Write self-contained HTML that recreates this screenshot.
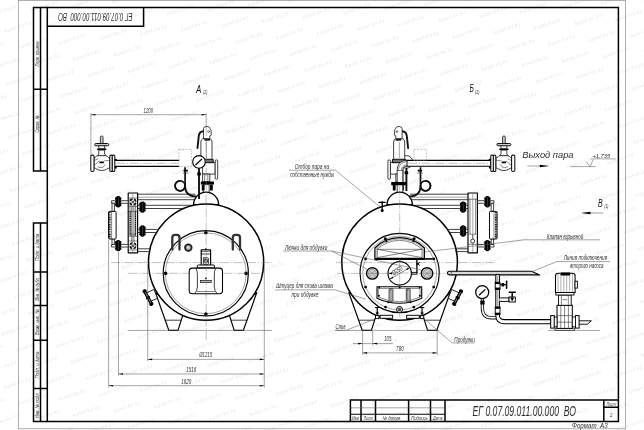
<!DOCTYPE html>
<html><head><meta charset="utf-8"><title>EG 0.07.09.011.00.000 VO</title>
<style>
html,body{margin:0;padding:0;background:#fff;}
body{width:644px;height:430px;overflow:hidden;font-family:"Liberation Sans",sans-serif;}
svg{display:block;will-change:transform;opacity:.999}
.o{fill:none;stroke:#8a8a8a;stroke-width:.7}
.f{fill:none;stroke:#000;stroke-width:1.5;stroke-linejoin:miter}
.k{fill:none;stroke:#000;stroke-width:1.15;stroke-linecap:round;stroke-linejoin:round}
.kw{fill:#fff;stroke:#000;stroke-width:1.15;stroke-linejoin:round}
.m{fill:none;stroke:#111;stroke-width:.8;stroke-linecap:round;stroke-linejoin:round}
.mw{fill:#fff;stroke:#111;stroke-width:.8;stroke-linejoin:round}
.n{fill:none;stroke:#333;stroke-width:.6;stroke-linecap:round;stroke-linejoin:round}
.nw{fill:#fff;stroke:#333;stroke-width:.6;stroke-linejoin:round}
.t{fill:none;stroke:#5a5a5a;stroke-width:.55}
.tw{fill:#fff;stroke:#666;stroke-width:.5}
.c{fill:none;stroke:#777;stroke-width:.45;stroke-dasharray:9 1.6 1.4 1.6}
.d{fill:none;stroke:#888;stroke-width:.5;stroke-dasharray:2 1.2}
.b{fill:#000;stroke:none}
.g{fill:#444;stroke:none}
.w{fill:#fff;stroke:none}
.tx{font-family:"Liberation Sans",sans-serif;font-style:italic;fill:#2e2e2e}
.tb{font-family:"Liberation Sans",sans-serif;font-style:italic;fill:#111}
.wm text{font-family:"Liberation Sans",sans-serif;font-size:5.2px;fill:#e3e3e3}
.wm use{fill:#e7e7e7}
</style></head><body>
<svg width="644" height="430" viewBox="0 0 644 430">
<defs>
<text id="wm" font-family="Liberation Sans, sans-serif" font-size="5" text-anchor="middle" textLength="28" lengthAdjust="spacing" transform="rotate(-19)">kotel-kv.kz</text>

<g id="valve">
 <rect class="mw" x="-1.35" y="-27.3" width="2.7" height="8.5" rx="1.2" style="fill:#ccc"/>
 <rect class="mw" x="-7" y="-19.8" width="14" height="2.3" rx="1.1" style="fill:#ccc;stroke-width:1"/>
 <rect class="mw" x="-2.9" y="-17.5" width="5.8" height="3.1"/>
 <rect class="b" x="-4.7" y="-14.7" width="9.4" height="1.5" rx=".5"/>
 <path class="mw" d="M-2.9 -13.2V-9.3L-4.6 -7.3H4.6L2.9 -9.3V-13.2Z"/>
 <path class="mw" d="M-7.7 -5.6C-5.6 -5.6 -5.8 -7.3 -4.2 -7.6H4.2C5.8 -7.3 5.6 -5.6 8.1 -5.6V4.6C5.6 4.8 4.5 7.2 0 7.2C-4.5 7.2 -5.4 4.8 -7.7 4.6Z"/>
 <path class="n" d="M-7.7 1.8C-5 1.6 -4.6 -1.6 -2.5 -2.2 M2.6 -2.4C4.5 -2.4 5.4 -3 8.1 -3 M-3.6 3.6C-1 5.2 2 4.2 3.4 1.6 M-7.7 -3C-6.2 -3 -5.2 -4 -4 -4.4"/>
 <rect class="b" x="-2.2" y="-1.8" width="4.4" height="1.7" rx=".4"/>
 <rect class="mw" x="-10.9" y="-8.2" width="3.2" height="16.4" rx="1.2" style="stroke-width:1.05"/>
 <rect class="mw" x="8.1" y="-8.2" width="2.5" height="16.4" rx="1" style="stroke-width:1.05"/>
 <rect class="mw" x="10.6" y="-8.2" width="2.5" height="16.4" rx="1" style="stroke-width:1.05"/>
 <rect class="b" x="13.1" y="-4.5" width="1.9" height="2" rx=".5"/>
 <rect class="b" x="13.1" y="3.2" width="1.9" height="2" rx=".5"/>
</g>

<g id="blob">
 <rect class="b" x="-2.2" y="-5.7" width="4.4" height="11.4" rx="1.8"/>
 <rect class="b" x="-3.2" y="-4.5" width="6.4" height="2.8" rx="1"/>
 <rect class="b" x="-3.2" y="1.7" width="6.4" height="2.8" rx="1"/>
 <rect class="b" x="-3" y="-1.3" width="6" height="2.6" rx=".8"/>
 <rect x="-.2" y="-4.6" width=".4" height="9.2" fill="#777"/>
</g>

<g id="vhead">
 <circle cx="0" cy="0" r="3.2" fill="#e8e8e8" stroke="none"/>
 <path d="M-2.6 -2.6L2.6 2.6M-2.6 2.6L2.6 -2.6" stroke="#666" stroke-width=".7" fill="none"/>
 <circle cx="0" cy="0" r="3" fill="none" stroke="#111" stroke-width="1.5" stroke-dasharray="3.1 1.61" stroke-dashoffset="-0.8"/>
 <circle cx="0" cy="0" r="1.3" fill="#555"/>
</g>

<g id="sv">
 <path d="M203.6 131.2C200.6 131.2 199 133 198.7 136.5L197.5 148" fill="none" stroke="#111" stroke-width="1.9" stroke-linecap="round"/>
 <path class="mw" d="M203.5 138.8V128.6Q203.7 126.7 206 126.6H208.2Q209.6 126.8 209.8 128.6Q211.3 129.2 211.2 131.5V134.6Q211.2 135.8 209.8 135.8V138.8Z"/>
 <circle class="n" cx="208.6" cy="131.6" r=".9"/>
 <path class="mw" d="M204 138.8H210.4Q211.9 139.6 212 142V159.2H200.9V142Q201 139.6 202.6 138.8Z"/>
 <path d="M204.4 139.9H210" stroke="#000" stroke-width="1.5" fill="none"/>
 <path class="t" d="M206.3 142V158"/>
</g>

<g id="instr">
 <!-- pipes from dome/drum to column -->
 <path class="w" d="M137.7 194.2H196V199.7H137.7Z"/>
 <path class="m" d="M137.7 194.2H195 M137.7 199.7H194"/>
 <path class="t" d="M137.7 197.2H194"/>
 <path class="w" d="M137.7 205.3H192V208.5H137.7Z"/>
 <path class="m" d="M137.7 205.3H192 M137.7 208.5H188"/>
 <path class="m" d="M137.7 229.4H157 M137.7 232.5H157"/>
 <path class="m" d="M137.7 248.8H150 M137.7 251.6H150"/>
 <use href="#blob" x="142.5" y="207.1"/>
 <use href="#blob" x="142.5" y="231"/>
 <!-- column -->
 <rect class="kw" x="128.2" y="193" width="9.4" height="59.8" style="stroke-width:1.15"/>
 <path class="n" d="M130 199V234.2M135.6 199V234.2 M130 234.2H135.6"/>
 <path class="t" d="M132.8 194V252"/>
 <!-- left side -->
 <path class="mw" d="M111.6 200.7H128.2V203.3H111.6Z"/>
 <path class="mw" d="M111.6 244.4H128.2V247H111.6Z"/>
 <use href="#blob" x="118.2" y="201.8"/>
 <use href="#blob" x="118.2" y="245.6"/>
 <path class="mw" d="M112 203.3H114.4V211.4H112Z"/>
 <path class="mw" d="M112 238.8H114.4V244.4H112Z"/>
 <rect class="kw" x="108.5" y="211.4" width="7.6" height="27.6" rx=".8" style="stroke-width:.95"/>
 <path d="M109.7 212V238.4" stroke="#111" stroke-width="1.7" stroke-dasharray="1.1 .6" fill="none"/>
 <path class="n" d="M111.6 211.4V238.8"/>
</g>
<g id="instrA">
 <path class="n" d="M128.2 198H137.7 M128.2 206.3H137.7 M128.2 211.4H137.7 M128.2 236.3H137.7 M128.2 241H137.7 M128.2 250H137.7"/>
 <path d="M130.2 211.4V236.3M135.5 211.4V236.3" stroke="#111" stroke-width="1.2" stroke-dasharray="1.3 .8" fill="none"/>
 <path class="n" d="M131.6 206.3V241M134 206.3V241"/>
 <use href="#vhead" x="132.9" y="202"/>
 <use href="#vhead" x="132.9" y="245.7"/>
</g>
<g id="instrB">
 <path class="n" d="M128.2 199.2H137.7 M128.2 244.3H137.7 M132.9 235V239"/>
 <circle class="mw" cx="132.9" cy="241.1" r="2"/>
</g>

<g id="drain">
 <path class="mw" d="M146.4 292.9L154 289.5L157.4 298.3L150.3 301.5Z" style="stroke-width:.9"/>
 <path d="M144.4 291L151.6 304.2" stroke="#000" stroke-width="3.2" stroke-linecap="round" fill="none"/>
 <path d="M144.6 291.4L151.4 303.8" stroke="#ddd" stroke-width=".6" fill="none"/>
 <ellipse class="b" cx="144.6" cy="291.2" rx="2.3" ry="1.3" transform="rotate(-28 144.6 291.2)"/>
 <ellipse class="b" cx="148" cy="297.6" rx="2.3" ry="1.2" transform="rotate(-28 148 297.6)"/>
 <ellipse class="b" cx="151.4" cy="304" rx="2.3" ry="1.3" transform="rotate(-28 151.4 304)"/>
</g>

<g id="legs">
 <path class="kw" d="M155.4 292.5L168.8 330.3H178L183.2 314Z"/>
 <path class="kw" d="M256.8 292.5L243.4 330.3H234.2L229 314Z"/>
 <path class="m" d="M165.2 320.2H180.8 M247 320.2H231.4"/>
</g>

</defs>
<g id="wmk">
<g class="wm">
<use href="#wm" x="-8.3" y="405.0"/>
<use href="#wm" x="5.9" y="421.3"/>
<use href="#wm" x="20.1" y="437.6"/>
<use href="#wm" x="-10.3" y="351.8"/>
<use href="#wm" x="3.9" y="368.1"/>
<use href="#wm" x="18.1" y="384.4"/>
<use href="#wm" x="32.3" y="400.7"/>
<use href="#wm" x="46.5" y="417.0"/>
<use href="#wm" x="60.7" y="433.3"/>
<use href="#wm" x="-12.3" y="298.6"/>
<use href="#wm" x="1.9" y="314.9"/>
<use href="#wm" x="16.1" y="331.2"/>
<use href="#wm" x="30.3" y="347.5"/>
<use href="#wm" x="44.5" y="363.8"/>
<use href="#wm" x="58.7" y="380.1"/>
<use href="#wm" x="72.9" y="396.4"/>
<use href="#wm" x="87.1" y="412.7"/>
<use href="#wm" x="101.3" y="429.0"/>
<use href="#wm" x="-14.3" y="245.4"/>
<use href="#wm" x="-0.1" y="261.7"/>
<use href="#wm" x="14.1" y="278.0"/>
<use href="#wm" x="28.3" y="294.3"/>
<use href="#wm" x="42.5" y="310.6"/>
<use href="#wm" x="56.7" y="326.9"/>
<use href="#wm" x="70.9" y="343.2"/>
<use href="#wm" x="85.1" y="359.5"/>
<use href="#wm" x="99.3" y="375.8"/>
<use href="#wm" x="113.5" y="392.1"/>
<use href="#wm" x="127.7" y="408.4"/>
<use href="#wm" x="141.9" y="424.7"/>
<use href="#wm" x="-16.3" y="192.2"/>
<use href="#wm" x="-2.1" y="208.5"/>
<use href="#wm" x="12.1" y="224.8"/>
<use href="#wm" x="26.3" y="241.1"/>
<use href="#wm" x="40.5" y="257.4"/>
<use href="#wm" x="54.7" y="273.7"/>
<use href="#wm" x="68.9" y="290.0"/>
<use href="#wm" x="83.1" y="306.3"/>
<use href="#wm" x="97.3" y="322.6"/>
<use href="#wm" x="111.5" y="338.9"/>
<use href="#wm" x="125.7" y="355.2"/>
<use href="#wm" x="139.9" y="371.5"/>
<use href="#wm" x="154.1" y="387.8"/>
<use href="#wm" x="168.3" y="404.1"/>
<use href="#wm" x="182.5" y="420.4"/>
<use href="#wm" x="196.7" y="436.7"/>
<use href="#wm" x="-18.3" y="139.0"/>
<use href="#wm" x="-4.1" y="155.3"/>
<use href="#wm" x="10.1" y="171.6"/>
<use href="#wm" x="24.3" y="187.9"/>
<use href="#wm" x="38.5" y="204.2"/>
<use href="#wm" x="52.7" y="220.5"/>
<use href="#wm" x="66.9" y="236.8"/>
<use href="#wm" x="81.1" y="253.1"/>
<use href="#wm" x="95.3" y="269.4"/>
<use href="#wm" x="109.5" y="285.7"/>
<use href="#wm" x="123.7" y="302.0"/>
<use href="#wm" x="137.9" y="318.3"/>
<use href="#wm" x="152.1" y="334.6"/>
<use href="#wm" x="166.3" y="350.9"/>
<use href="#wm" x="180.5" y="367.2"/>
<use href="#wm" x="194.7" y="383.5"/>
<use href="#wm" x="208.9" y="399.8"/>
<use href="#wm" x="223.1" y="416.1"/>
<use href="#wm" x="237.3" y="432.4"/>
<use href="#wm" x="-6.1" y="102.1"/>
<use href="#wm" x="8.1" y="118.4"/>
<use href="#wm" x="22.3" y="134.7"/>
<use href="#wm" x="36.5" y="151.0"/>
<use href="#wm" x="50.7" y="167.3"/>
<use href="#wm" x="64.9" y="183.6"/>
<use href="#wm" x="79.1" y="199.9"/>
<use href="#wm" x="93.3" y="216.2"/>
<use href="#wm" x="107.5" y="232.5"/>
<use href="#wm" x="121.7" y="248.8"/>
<use href="#wm" x="135.9" y="265.1"/>
<use href="#wm" x="150.1" y="281.4"/>
<use href="#wm" x="164.3" y="297.7"/>
<use href="#wm" x="178.5" y="314.0"/>
<use href="#wm" x="192.7" y="330.3"/>
<use href="#wm" x="206.9" y="346.6"/>
<use href="#wm" x="221.1" y="362.9"/>
<use href="#wm" x="235.3" y="379.2"/>
<use href="#wm" x="249.5" y="395.5"/>
<use href="#wm" x="263.7" y="411.8"/>
<use href="#wm" x="277.9" y="428.1"/>
<use href="#wm" x="-8.1" y="48.9"/>
<use href="#wm" x="6.1" y="65.2"/>
<use href="#wm" x="20.3" y="81.5"/>
<use href="#wm" x="34.5" y="97.8"/>
<use href="#wm" x="48.7" y="114.1"/>
<use href="#wm" x="62.9" y="130.4"/>
<use href="#wm" x="77.1" y="146.7"/>
<use href="#wm" x="91.3" y="163.0"/>
<use href="#wm" x="105.5" y="179.3"/>
<use href="#wm" x="119.7" y="195.6"/>
<use href="#wm" x="133.9" y="211.9"/>
<use href="#wm" x="148.1" y="228.2"/>
<use href="#wm" x="162.3" y="244.5"/>
<use href="#wm" x="176.5" y="260.8"/>
<use href="#wm" x="190.7" y="277.1"/>
<use href="#wm" x="204.9" y="293.4"/>
<use href="#wm" x="219.1" y="309.7"/>
<use href="#wm" x="233.3" y="326.0"/>
<use href="#wm" x="247.5" y="342.3"/>
<use href="#wm" x="261.7" y="358.6"/>
<use href="#wm" x="275.9" y="374.9"/>
<use href="#wm" x="290.1" y="391.2"/>
<use href="#wm" x="304.3" y="407.5"/>
<use href="#wm" x="318.5" y="423.8"/>
<use href="#wm" x="-10.1" y="-4.3"/>
<use href="#wm" x="4.1" y="12.0"/>
<use href="#wm" x="18.3" y="28.3"/>
<use href="#wm" x="32.5" y="44.6"/>
<use href="#wm" x="46.7" y="60.9"/>
<use href="#wm" x="60.9" y="77.2"/>
<use href="#wm" x="75.1" y="93.5"/>
<use href="#wm" x="89.3" y="109.8"/>
<use href="#wm" x="103.5" y="126.1"/>
<use href="#wm" x="117.7" y="142.4"/>
<use href="#wm" x="131.9" y="158.7"/>
<use href="#wm" x="146.1" y="175.0"/>
<use href="#wm" x="160.3" y="191.3"/>
<use href="#wm" x="174.5" y="207.6"/>
<use href="#wm" x="188.7" y="223.9"/>
<use href="#wm" x="202.9" y="240.2"/>
<use href="#wm" x="217.1" y="256.5"/>
<use href="#wm" x="231.3" y="272.8"/>
<use href="#wm" x="245.5" y="289.1"/>
<use href="#wm" x="259.7" y="305.4"/>
<use href="#wm" x="273.9" y="321.7"/>
<use href="#wm" x="288.1" y="338.0"/>
<use href="#wm" x="302.3" y="354.3"/>
<use href="#wm" x="316.5" y="370.6"/>
<use href="#wm" x="330.7" y="386.9"/>
<use href="#wm" x="344.9" y="403.2"/>
<use href="#wm" x="359.1" y="419.5"/>
<use href="#wm" x="373.3" y="435.8"/>
<use href="#wm" x="30.5" y="-8.6"/>
<use href="#wm" x="44.7" y="7.7"/>
<use href="#wm" x="58.9" y="24.0"/>
<use href="#wm" x="73.1" y="40.3"/>
<use href="#wm" x="87.3" y="56.6"/>
<use href="#wm" x="101.5" y="72.9"/>
<use href="#wm" x="115.7" y="89.2"/>
<use href="#wm" x="129.9" y="105.5"/>
<use href="#wm" x="144.1" y="121.8"/>
<use href="#wm" x="158.3" y="138.1"/>
<use href="#wm" x="172.5" y="154.4"/>
<use href="#wm" x="186.7" y="170.7"/>
<use href="#wm" x="200.9" y="187.0"/>
<use href="#wm" x="215.1" y="203.3"/>
<use href="#wm" x="229.3" y="219.6"/>
<use href="#wm" x="243.5" y="235.9"/>
<use href="#wm" x="257.7" y="252.2"/>
<use href="#wm" x="271.9" y="268.5"/>
<use href="#wm" x="286.1" y="284.8"/>
<use href="#wm" x="300.3" y="301.1"/>
<use href="#wm" x="314.5" y="317.4"/>
<use href="#wm" x="328.7" y="333.7"/>
<use href="#wm" x="342.9" y="350.0"/>
<use href="#wm" x="357.1" y="366.3"/>
<use href="#wm" x="371.3" y="382.6"/>
<use href="#wm" x="385.5" y="398.9"/>
<use href="#wm" x="399.7" y="415.2"/>
<use href="#wm" x="413.9" y="431.5"/>
<use href="#wm" x="85.3" y="3.4"/>
<use href="#wm" x="99.5" y="19.7"/>
<use href="#wm" x="113.7" y="36.0"/>
<use href="#wm" x="127.9" y="52.3"/>
<use href="#wm" x="142.1" y="68.6"/>
<use href="#wm" x="156.3" y="84.9"/>
<use href="#wm" x="170.5" y="101.2"/>
<use href="#wm" x="184.7" y="117.5"/>
<use href="#wm" x="198.9" y="133.8"/>
<use href="#wm" x="213.1" y="150.1"/>
<use href="#wm" x="227.3" y="166.4"/>
<use href="#wm" x="241.5" y="182.7"/>
<use href="#wm" x="255.7" y="199.0"/>
<use href="#wm" x="269.9" y="215.3"/>
<use href="#wm" x="284.1" y="231.6"/>
<use href="#wm" x="298.3" y="247.9"/>
<use href="#wm" x="312.5" y="264.2"/>
<use href="#wm" x="326.7" y="280.5"/>
<use href="#wm" x="340.9" y="296.8"/>
<use href="#wm" x="355.1" y="313.1"/>
<use href="#wm" x="369.3" y="329.4"/>
<use href="#wm" x="383.5" y="345.7"/>
<use href="#wm" x="397.7" y="362.0"/>
<use href="#wm" x="411.9" y="378.3"/>
<use href="#wm" x="426.1" y="394.6"/>
<use href="#wm" x="440.3" y="410.9"/>
<use href="#wm" x="454.5" y="427.2"/>
<use href="#wm" x="125.9" y="-0.9"/>
<use href="#wm" x="140.1" y="15.4"/>
<use href="#wm" x="154.3" y="31.7"/>
<use href="#wm" x="168.5" y="48.0"/>
<use href="#wm" x="182.7" y="64.3"/>
<use href="#wm" x="196.9" y="80.6"/>
<use href="#wm" x="211.1" y="96.9"/>
<use href="#wm" x="225.3" y="113.2"/>
<use href="#wm" x="239.5" y="129.5"/>
<use href="#wm" x="253.7" y="145.8"/>
<use href="#wm" x="267.9" y="162.1"/>
<use href="#wm" x="282.1" y="178.4"/>
<use href="#wm" x="296.3" y="194.7"/>
<use href="#wm" x="310.5" y="211.0"/>
<use href="#wm" x="324.7" y="227.3"/>
<use href="#wm" x="338.9" y="243.6"/>
<use href="#wm" x="353.1" y="259.9"/>
<use href="#wm" x="367.3" y="276.2"/>
<use href="#wm" x="381.5" y="292.5"/>
<use href="#wm" x="395.7" y="308.8"/>
<use href="#wm" x="409.9" y="325.1"/>
<use href="#wm" x="424.1" y="341.4"/>
<use href="#wm" x="438.3" y="357.7"/>
<use href="#wm" x="452.5" y="374.0"/>
<use href="#wm" x="466.7" y="390.3"/>
<use href="#wm" x="480.9" y="406.6"/>
<use href="#wm" x="495.1" y="422.9"/>
<use href="#wm" x="509.3" y="439.2"/>
<use href="#wm" x="166.5" y="-5.2"/>
<use href="#wm" x="180.7" y="11.1"/>
<use href="#wm" x="194.9" y="27.4"/>
<use href="#wm" x="209.1" y="43.7"/>
<use href="#wm" x="223.3" y="60.0"/>
<use href="#wm" x="237.5" y="76.3"/>
<use href="#wm" x="251.7" y="92.6"/>
<use href="#wm" x="265.9" y="108.9"/>
<use href="#wm" x="280.1" y="125.2"/>
<use href="#wm" x="294.3" y="141.5"/>
<use href="#wm" x="308.5" y="157.8"/>
<use href="#wm" x="322.7" y="174.1"/>
<use href="#wm" x="336.9" y="190.4"/>
<use href="#wm" x="351.1" y="206.7"/>
<use href="#wm" x="365.3" y="223.0"/>
<use href="#wm" x="379.5" y="239.3"/>
<use href="#wm" x="393.7" y="255.6"/>
<use href="#wm" x="407.9" y="271.9"/>
<use href="#wm" x="422.1" y="288.2"/>
<use href="#wm" x="436.3" y="304.5"/>
<use href="#wm" x="450.5" y="320.8"/>
<use href="#wm" x="464.7" y="337.1"/>
<use href="#wm" x="478.9" y="353.4"/>
<use href="#wm" x="493.1" y="369.7"/>
<use href="#wm" x="507.3" y="386.0"/>
<use href="#wm" x="521.5" y="402.3"/>
<use href="#wm" x="535.7" y="418.6"/>
<use href="#wm" x="549.9" y="434.9"/>
<use href="#wm" x="207.1" y="-9.5"/>
<use href="#wm" x="221.3" y="6.8"/>
<use href="#wm" x="235.5" y="23.1"/>
<use href="#wm" x="249.7" y="39.4"/>
<use href="#wm" x="263.9" y="55.7"/>
<use href="#wm" x="278.1" y="72.0"/>
<use href="#wm" x="292.3" y="88.3"/>
<use href="#wm" x="306.5" y="104.6"/>
<use href="#wm" x="320.7" y="120.9"/>
<use href="#wm" x="334.9" y="137.2"/>
<use href="#wm" x="349.1" y="153.5"/>
<use href="#wm" x="363.3" y="169.8"/>
<use href="#wm" x="377.5" y="186.1"/>
<use href="#wm" x="391.7" y="202.4"/>
<use href="#wm" x="405.9" y="218.7"/>
<use href="#wm" x="420.1" y="235.0"/>
<use href="#wm" x="434.3" y="251.3"/>
<use href="#wm" x="448.5" y="267.6"/>
<use href="#wm" x="462.7" y="283.9"/>
<use href="#wm" x="476.9" y="300.2"/>
<use href="#wm" x="491.1" y="316.5"/>
<use href="#wm" x="505.3" y="332.8"/>
<use href="#wm" x="519.5" y="349.1"/>
<use href="#wm" x="533.7" y="365.4"/>
<use href="#wm" x="547.9" y="381.7"/>
<use href="#wm" x="562.1" y="398.0"/>
<use href="#wm" x="576.3" y="414.3"/>
<use href="#wm" x="590.5" y="430.6"/>
<use href="#wm" x="261.9" y="2.5"/>
<use href="#wm" x="276.1" y="18.8"/>
<use href="#wm" x="290.3" y="35.1"/>
<use href="#wm" x="304.5" y="51.4"/>
<use href="#wm" x="318.7" y="67.7"/>
<use href="#wm" x="332.9" y="84.0"/>
<use href="#wm" x="347.1" y="100.3"/>
<use href="#wm" x="361.3" y="116.6"/>
<use href="#wm" x="375.5" y="132.9"/>
<use href="#wm" x="389.7" y="149.2"/>
<use href="#wm" x="403.9" y="165.5"/>
<use href="#wm" x="418.1" y="181.8"/>
<use href="#wm" x="432.3" y="198.1"/>
<use href="#wm" x="446.5" y="214.4"/>
<use href="#wm" x="460.7" y="230.7"/>
<use href="#wm" x="474.9" y="247.0"/>
<use href="#wm" x="489.1" y="263.3"/>
<use href="#wm" x="503.3" y="279.6"/>
<use href="#wm" x="517.5" y="295.9"/>
<use href="#wm" x="531.7" y="312.2"/>
<use href="#wm" x="545.9" y="328.5"/>
<use href="#wm" x="560.1" y="344.8"/>
<use href="#wm" x="574.3" y="361.1"/>
<use href="#wm" x="588.5" y="377.4"/>
<use href="#wm" x="602.7" y="393.7"/>
<use href="#wm" x="616.9" y="410.0"/>
<use href="#wm" x="631.1" y="426.3"/>
<use href="#wm" x="302.5" y="-1.8"/>
<use href="#wm" x="316.7" y="14.5"/>
<use href="#wm" x="330.9" y="30.8"/>
<use href="#wm" x="345.1" y="47.1"/>
<use href="#wm" x="359.3" y="63.4"/>
<use href="#wm" x="373.5" y="79.7"/>
<use href="#wm" x="387.7" y="96.0"/>
<use href="#wm" x="401.9" y="112.3"/>
<use href="#wm" x="416.1" y="128.6"/>
<use href="#wm" x="430.3" y="144.9"/>
<use href="#wm" x="444.5" y="161.2"/>
<use href="#wm" x="458.7" y="177.5"/>
<use href="#wm" x="472.9" y="193.8"/>
<use href="#wm" x="487.1" y="210.1"/>
<use href="#wm" x="501.3" y="226.4"/>
<use href="#wm" x="515.5" y="242.7"/>
<use href="#wm" x="529.7" y="259.0"/>
<use href="#wm" x="543.9" y="275.3"/>
<use href="#wm" x="558.1" y="291.6"/>
<use href="#wm" x="572.3" y="307.9"/>
<use href="#wm" x="586.5" y="324.2"/>
<use href="#wm" x="600.7" y="340.5"/>
<use href="#wm" x="614.9" y="356.8"/>
<use href="#wm" x="629.1" y="373.1"/>
<use href="#wm" x="643.3" y="389.4"/>
<use href="#wm" x="657.5" y="405.7"/>
<use href="#wm" x="343.1" y="-6.1"/>
<use href="#wm" x="357.3" y="10.2"/>
<use href="#wm" x="371.5" y="26.5"/>
<use href="#wm" x="385.7" y="42.8"/>
<use href="#wm" x="399.9" y="59.1"/>
<use href="#wm" x="414.1" y="75.4"/>
<use href="#wm" x="428.3" y="91.7"/>
<use href="#wm" x="442.5" y="108.0"/>
<use href="#wm" x="456.7" y="124.3"/>
<use href="#wm" x="470.9" y="140.6"/>
<use href="#wm" x="485.1" y="156.9"/>
<use href="#wm" x="499.3" y="173.2"/>
<use href="#wm" x="513.5" y="189.5"/>
<use href="#wm" x="527.7" y="205.8"/>
<use href="#wm" x="541.9" y="222.1"/>
<use href="#wm" x="556.1" y="238.4"/>
<use href="#wm" x="570.3" y="254.7"/>
<use href="#wm" x="584.5" y="271.0"/>
<use href="#wm" x="598.7" y="287.3"/>
<use href="#wm" x="612.9" y="303.6"/>
<use href="#wm" x="627.1" y="319.9"/>
<use href="#wm" x="641.3" y="336.2"/>
<use href="#wm" x="655.5" y="352.5"/>
<use href="#wm" x="397.9" y="5.9"/>
<use href="#wm" x="412.1" y="22.2"/>
<use href="#wm" x="426.3" y="38.5"/>
<use href="#wm" x="440.5" y="54.8"/>
<use href="#wm" x="454.7" y="71.1"/>
<use href="#wm" x="468.9" y="87.4"/>
<use href="#wm" x="483.1" y="103.7"/>
<use href="#wm" x="497.3" y="120.0"/>
<use href="#wm" x="511.5" y="136.3"/>
<use href="#wm" x="525.7" y="152.6"/>
<use href="#wm" x="539.9" y="168.9"/>
<use href="#wm" x="554.1" y="185.2"/>
<use href="#wm" x="568.3" y="201.5"/>
<use href="#wm" x="582.5" y="217.8"/>
<use href="#wm" x="596.7" y="234.1"/>
<use href="#wm" x="610.9" y="250.4"/>
<use href="#wm" x="625.1" y="266.7"/>
<use href="#wm" x="639.3" y="283.0"/>
<use href="#wm" x="653.5" y="299.3"/>
<use href="#wm" x="438.5" y="1.6"/>
<use href="#wm" x="452.7" y="17.9"/>
<use href="#wm" x="466.9" y="34.2"/>
<use href="#wm" x="481.1" y="50.5"/>
<use href="#wm" x="495.3" y="66.8"/>
<use href="#wm" x="509.5" y="83.1"/>
<use href="#wm" x="523.7" y="99.4"/>
<use href="#wm" x="537.9" y="115.7"/>
<use href="#wm" x="552.1" y="132.0"/>
<use href="#wm" x="566.3" y="148.3"/>
<use href="#wm" x="580.5" y="164.6"/>
<use href="#wm" x="594.7" y="180.9"/>
<use href="#wm" x="608.9" y="197.2"/>
<use href="#wm" x="623.1" y="213.5"/>
<use href="#wm" x="637.3" y="229.8"/>
<use href="#wm" x="651.5" y="246.1"/>
<use href="#wm" x="479.1" y="-2.7"/>
<use href="#wm" x="493.3" y="13.6"/>
<use href="#wm" x="507.5" y="29.9"/>
<use href="#wm" x="521.7" y="46.2"/>
<use href="#wm" x="535.9" y="62.5"/>
<use href="#wm" x="550.1" y="78.8"/>
<use href="#wm" x="564.3" y="95.1"/>
<use href="#wm" x="578.5" y="111.4"/>
<use href="#wm" x="592.7" y="127.7"/>
<use href="#wm" x="606.9" y="144.0"/>
<use href="#wm" x="621.1" y="160.3"/>
<use href="#wm" x="635.3" y="176.6"/>
<use href="#wm" x="649.5" y="192.9"/>
<use href="#wm" x="663.7" y="209.2"/>
<use href="#wm" x="519.7" y="-7.0"/>
<use href="#wm" x="533.9" y="9.3"/>
<use href="#wm" x="548.1" y="25.6"/>
<use href="#wm" x="562.3" y="41.9"/>
<use href="#wm" x="576.5" y="58.2"/>
<use href="#wm" x="590.7" y="74.5"/>
<use href="#wm" x="604.9" y="90.8"/>
<use href="#wm" x="619.1" y="107.1"/>
<use href="#wm" x="633.3" y="123.4"/>
<use href="#wm" x="647.5" y="139.7"/>
<use href="#wm" x="661.7" y="156.0"/>
<use href="#wm" x="574.5" y="5.0"/>
<use href="#wm" x="588.7" y="21.3"/>
<use href="#wm" x="602.9" y="37.6"/>
<use href="#wm" x="617.1" y="53.9"/>
<use href="#wm" x="631.3" y="70.2"/>
<use href="#wm" x="645.5" y="86.5"/>
<use href="#wm" x="659.7" y="102.8"/>
<use href="#wm" x="615.1" y="0.7"/>
<use href="#wm" x="629.3" y="17.0"/>
<use href="#wm" x="643.5" y="33.3"/>
<use href="#wm" x="657.7" y="49.6"/>
<use href="#wm" x="655.7" y="-3.6"/>
</g>
</g>
<rect class="o" x="18.50" y="0.50" width="607.00" height="428.30" rx="0" />
<rect class="f" x="47.30" y="7.50" width="571.10" height="414.00" rx="0" />
<path class="f" d="M47.3 7.5H33.5V171H47.3 M40.5 7.5V171 M33.5 89.2H47.3" />
<path class="f" d="M47.3 223.1H33.5V421.5H47.3 M40.5 223.1V421.5 M33.5 272.1H47.3 M33.5 305.5H47.3 M33.5 340.2H47.3 M33.5 388.4H47.3" />
<path class="f" d="M143.6 7.5V26.3H47.3" />
<text class="tx" transform="translate(95.4,13.2) rotate(180)" font-size="10.3" text-anchor="middle" textLength="74.4" lengthAdjust="spacingAndGlyphs" >ЕГ 0.07.09.011.00.000  ВО</text>
<text class="tx" transform="translate(38.7,53.5) rotate(-90)" font-size="5.2" text-anchor="middle" textLength="26" lengthAdjust="spacingAndGlyphs" >Перв. примен.</text>
<text class="tx" transform="translate(38.7,124) rotate(-90)" font-size="5.2" text-anchor="middle" textLength="17" lengthAdjust="spacingAndGlyphs" >Справ. №</text>
<text class="tx" transform="translate(38.7,247.4) rotate(-90)" font-size="5.2" text-anchor="middle" textLength="27" lengthAdjust="spacingAndGlyphs" >Подп. и дата</text>
<text class="tx" transform="translate(38.7,288.9) rotate(-90)" font-size="5.2" text-anchor="middle" textLength="23" lengthAdjust="spacingAndGlyphs" >Инв. № дубл.</text>
<text class="tx" transform="translate(38.7,322.3) rotate(-90)" font-size="5.2" text-anchor="middle" textLength="26" lengthAdjust="spacingAndGlyphs" >Взам. инв. №</text>
<text class="tx" transform="translate(38.7,365) rotate(-90)" font-size="5.2" text-anchor="middle" textLength="27" lengthAdjust="spacingAndGlyphs" >Подп. и дата</text>
<text class="tx" transform="translate(38.7,405.2) rotate(-90)" font-size="5.2" text-anchor="middle" textLength="26" lengthAdjust="spacingAndGlyphs" >Инв. № подл.</text>
<path class="f" d="M350.4 421.5V400.1H618.4" />
<path class="f" d="M361 400.1V421.5 M375.5 400.1V421.5 M408.6 400.1V421.5 M430.5 400.1V421.5 M445 400.1V421.5 M603.8 400.1V421.5 M603.8 407.2H618.4" />
<path class="" d="M350.4 414.3H445" stroke="#000" stroke-width="1.1" fill="none"/>
<path class="t" d="M350.4 407.8H445" />
<text class="tx" transform="translate(355.8,419.9)" font-size="5.2" text-anchor="middle" textLength="7.5" lengthAdjust="spacingAndGlyphs" >Изм.</text>
<text class="tx" transform="translate(368.3,419.9)" font-size="5.2" text-anchor="middle" textLength="9" lengthAdjust="spacingAndGlyphs" >Лист</text>
<text class="tx" transform="translate(392,419.9)" font-size="5.2" text-anchor="middle" textLength="19" lengthAdjust="spacingAndGlyphs" >№ докум.</text>
<text class="tx" transform="translate(419.5,419.9)" font-size="5.2" text-anchor="middle" textLength="16.5" lengthAdjust="spacingAndGlyphs" >Подпись</text>
<text class="tx" transform="translate(437.8,419.9)" font-size="5.2" text-anchor="middle" textLength="9.5" lengthAdjust="spacingAndGlyphs" >Дата</text>
<text class="tx" transform="translate(524.3,415.8)" font-size="14" text-anchor="middle" textLength="103.4" lengthAdjust="spacingAndGlyphs" >ЕГ 0.07.09.011.00.000  ВО</text>
<text class="tx" transform="translate(611.1,405.7)" font-size="5.2" text-anchor="middle" textLength="9" lengthAdjust="spacingAndGlyphs" >Лист</text>
<text class="tx" transform="translate(611.1,416.8)" font-size="5.6" text-anchor="middle" textLength="2.4" lengthAdjust="spacingAndGlyphs" >2</text>
<text class="tx" transform="translate(589.8,428)" font-size="7.4" text-anchor="middle" textLength="35.7" lengthAdjust="spacingAndGlyphs" >Формат  А3</text>
<path class="t" d="M90.9 113.2V156" />
<path class="t" d="M206.2 113.2V127" />
<line class="t" x1="90.9" y1="114.7" x2="206.2" y2="114.7" />
<path class="b" d="M90.9 114.7l4.5 -.8v1.6Z M206.2 114.7l-4.5 -.8v1.6Z" />
<text class="tx" transform="translate(148.3,112.9)" font-size="6.9" text-anchor="middle" textLength="9.6" lengthAdjust="spacingAndGlyphs" >1200</text>
<text class="tb" transform="translate(198.8,92.7)" font-size="10.8" text-anchor="middle" textLength="5" lengthAdjust="spacingAndGlyphs" >А</text>
<text class="tx" transform="translate(205.2,94)" font-size="4.6" text-anchor="middle" textLength="4.2" lengthAdjust="spacingAndGlyphs" >(2)</text>
<path class="k" d="M114.8 160.3H178.8 M114.8 166.3H178.8" />
<path class="c" d="M116 163.3H178" />
<use href="#valve" x="101.7" y="163.3"/>
<rect class="d" x="178.80" y="149.40" width="12.60" height="17.00" rx="0" />
<rect class="mw" x="202.60" y="162.40" width="12.60" height="11.70" rx="0" />
<rect class="" x="199.80" y="159.60" width="13.40" height="3.10" rx="0" rx=".5" fill="#777" stroke="#000" stroke-width=".9"/>
<rect class="mw" x="215.20" y="159.90" width="2.50" height="19.40" rx="1.1" />
<rect class="mw" x="202.60" y="174.10" width="7.20" height="7.50" rx="0" />
<path class="n" d="M204.6 174.1V181.6M207.8 174.1V181.6" />
<rect class="b" x="200.80" y="181.60" width="13.20" height="3.00" rx="0.4" />
<rect class="mw" x="203.20" y="184.60" width="6.00" height="8.60" rx="0" />
<rect class="b" x="201.80" y="184.40" width="2.80" height="6.20" rx="0.5" />
<rect class="b" x="210.00" y="184.40" width="2.80" height="6.00" rx="0.5" />
<use href="#sv"/>
<use href="#instr"/><use href="#instrA"/>
<path class="kw" d="M193.5 205A12.6 12.9 0 0 1 218.7 205Z" style="stroke-width:1.35"/>
<path class="" d="M185.1 167.2V186A5 5 0 1 1 180.1 180.8 M185.1 186C185.1 193 189 196.5 196.6 196.5" fill="none" stroke="#111" stroke-width="1.7"/>
<circle class="" cx="180.1" cy="185.8" r="5" fill="none" stroke="#111" stroke-width="1.7"/>
<rect class="b" x="183.50" y="169.70" width="4.40" height="1.80" rx="0.4" />
<line class="n" x1="183.2" y1="173" x2="188.2" y2="173" />
<path class="" d="M199 168V199" stroke="#111" stroke-width="1.9" fill="none"/>
<rect class="b" x="197.20" y="172.40" width="3.60" height="3.00" rx="0.4" />
<circle class="kw" cx="199" cy="161.9" r="6.3" />
<line class="" x1="195.5" y1="165" x2="202" y2="158.9" stroke="#000" stroke-width="1.3"/>
<use href="#legs"/>
<use href="#drain"/>
<ellipse class="kw" cx="206.1" cy="262.1" rx="57.6" ry="58.2" style="stroke-width:1.5"/>
<circle class="k" cx="205.8" cy="273.3" r="42.6" />
<circle class="t" cx="205.8" cy="273.3" r="40.4" />
<circle class="b" cx="205.9" cy="232.8" r="1.8" />
<circle class="b" cx="205.9" cy="314" r="1.8" />
<circle class="b" cx="165.6" cy="273.4" r="1.8" />
<circle class="b" cx="246.1" cy="273.4" r="1.8" />
<path class="c" d="M206.2 127V341.6" />
<path class="c" d="M111 262.6H272" />
<path class="c" d="M128.3 273.3H262" />
<path class="" d="M172.29999999999998 249.5V237.6Q172.29999999999998 234.8 174.9 234.8H176.9Q179.5 234.8 179.5 237.6V249.5" fill="none" stroke="#333" stroke-width="2.3" stroke-linecap="round"/>
<path class="" d="M232.79999999999998 249.5V237.6Q232.79999999999998 234.8 235.4 234.8H237.4Q240.0 234.8 240.0 237.6V249.5" fill="none" stroke="#333" stroke-width="2.3" stroke-linecap="round"/>
<circle class="" cx="188.3" cy="247.6" r="3.4" fill="#888" stroke="#1a1a1a" stroke-width="1.6"/>
<circle class="" cx="188.3" cy="247.6" r="1.5" fill="#ddd" stroke="none"/>
<rect class="kw" x="201.20" y="249.70" width="9.40" height="16.70" rx="0" />
<path class="m" d="M201.2 251.2H210.6M201.2 254H210.6" />
<circle class="b" cx="205.9" cy="249.3" r="1" />
<rect class="m" x="203.40" y="257.80" width="5.00" height="6.60" rx="0.6" />
<rect class="m" x="204.30" y="259.20" width="3.20" height="3.60" rx="1" />
<line class="m" x1="204.5" y1="261" x2="207.3" y2="261" />
<path class="" d="M197.2 267.9V266Q197.4 265 198.6 265H213.2Q214.4 265 214.5 266V267.9Z" fill="#fff" stroke="#000" stroke-width="1"/>
<path class="" d="M192.3 268.1H219.4Q222.5 268.1 222.5 271.2V290.5Q222.5 293.7 219.4 293.7H192.3Q189.2 293.7 189.2 290.5V271.2Q189.2 268.1 192.3 268.1Z" fill="#fff" stroke="#000" stroke-width="1.05"/>
<path class="m" d="M196 268.3Q197.6 271 197.4 275V287Q197.2 291 194.8 293.5 M215.7 268.3Q214.1 271 214.3 275V287Q214.5 291 216.9 293.5" />
<path class="n" d="M197.4 291.5H214.3" />
<circle class="b" cx="205.9" cy="278.3" r="0.9" />
<rect class="" x="200.40" y="280.40" width="10.90" height="2.00" rx="0" rx="1" fill="#bbb" stroke="#111" stroke-width=".7"/>
<path class="c" d="M206.2 249V296" />
<line class="t" x1="127.7" y1="330.4" x2="272" y2="330.4" />
<path class="t" d="M108.6 240V387.5 M118.5 252V375.6 M147.7 264V361 M264.3 264V387.5" />
<line class="t" x1="147.7" y1="359.4" x2="264.3" y2="359.4" />
<path class="b" d="M147.7 359.4l4.5 -.8v1.6Z M264.3 359.4l-4.5 -.8v1.6Z" />
<text class="tx" transform="translate(205.6,357.29999999999995)" font-size="7" text-anchor="middle" textLength="12.8" lengthAdjust="spacingAndGlyphs" >Ø1215</text>
<line class="t" x1="118.5" y1="374" x2="264.3" y2="374" />
<path class="b" d="M118.5 374l4.5 -.8v1.6Z M264.3 374l-4.5 -.8v1.6Z" />
<text class="tx" transform="translate(191.3,371.9)" font-size="7" text-anchor="middle" textLength="10" lengthAdjust="spacingAndGlyphs" >1516</text>
<line class="t" x1="108.6" y1="385.7" x2="264.3" y2="385.7" />
<path class="b" d="M108.6 385.7l4.5 -.8v1.6Z M264.3 385.7l-4.5 -.8v1.6Z" />
<text class="tx" transform="translate(186.2,383.59999999999997)" font-size="7" text-anchor="middle" textLength="10" lengthAdjust="spacingAndGlyphs" >1620</text>
<text class="tb" transform="translate(471.8,91.8)" font-size="10.2" text-anchor="middle" textLength="4.4" lengthAdjust="spacingAndGlyphs" >Б</text>
<text class="tx" transform="translate(477.2,93.5)" font-size="4.6" text-anchor="middle" textLength="4.2" lengthAdjust="spacingAndGlyphs" >(2)</text>
<circle class="m" cx="406.6" cy="161.9" r="6.3" />
<path class="kw" d="M406.6 160.4H490.8V166.2H406.6Z" />
<path class="c" d="M408 163.3H490" />
<use href="#valve" transform="translate(503.9,163.3) scale(-1,1)"/>
<rect class="d" x="413.90" y="149.30" width="12.70" height="11.20" rx="0" />
<g transform="translate(605.6,0) scale(-1,1)">
<rect class="mw" x="202.60" y="162.40" width="12.60" height="11.70" rx="0" />
<rect class="" x="199.80" y="159.60" width="13.40" height="3.10" rx="0" rx=".5" fill="#777" stroke="#000" stroke-width=".9"/>
<rect class="mw" x="215.20" y="159.90" width="2.50" height="19.40" rx="1.1" />
<rect class="mw" x="202.60" y="174.10" width="7.20" height="7.50" rx="0" />
<rect class="b" x="201.80" y="184.40" width="2.80" height="6.20" rx="0.5" />
<rect class="b" x="210.00" y="184.40" width="2.80" height="6.00" rx="0.5" />
<use href="#sv"/>
</g>
<path class="mw" d="M407 160.5C400.5 160.5 397.2 164 397.2 170.5V192.5H402.8V170.5C402.8 167.6 404.2 166.2 407 166.2Z" />
<path class="n" d="M407 161.8C401.6 161.8 398.5 165 398.5 170.5 M407 164.9C403.2 164.9 401.6 167 401.6 170.5 M397.2 170.5H402.8" />
<rect class="b" x="391.20" y="181.90" width="15.20" height="3.40" rx="0.5" />
<path class="" d="M406.4 168V191" stroke="#111" stroke-width="1.9" fill="none"/>
<rect class="b" x="404.60" y="171.30" width="3.60" height="3.00" rx="0.4" />
<g transform="translate(605.6,0) scale(-1,1)"><use href="#instr"/><use href="#instrB"/></g>
<path class="kw" d="M387 205A12.7 12.9 0 0 1 412.4 205Z" style="stroke-width:1.35"/>
<g transform="translate(605.6,0) scale(-1,1)">
<path class="" d="M185.1 167.2V186A5 5 0 1 1 180.1 180.8 M185.1 186C185.1 193 189 196.5 196.6 196.5" fill="none" stroke="#111" stroke-width="1.7"/>
<circle class="" cx="180.1" cy="185.8" r="5" fill="none" stroke="#111" stroke-width="1.7"/>
<rect class="b" x="183.50" y="169.70" width="4.40" height="1.80" rx="0.4" />
<line class="n" x1="183.2" y1="173" x2="188.2" y2="173" />
</g>
<use href="#legs" transform="translate(605.6,0) scale(-1,1)"/>
<use href="#drain" transform="translate(605.6,0) scale(-1,1)"/>
<ellipse class="kw" cx="399.6" cy="262.1" rx="57.8" ry="58.2" style="stroke-width:1.5"/>
<circle class="k" cx="399.65" cy="273.0" r="39.6" />
<circle class="t" cx="399.65" cy="273.0" r="36.9" />
<circle class="b" cx="433.7" cy="287.1" r="1.4" />
<circle class="b" cx="413.8" cy="307.1" r="1.4" />
<circle class="b" cx="385.5" cy="307.1" r="1.4" />
<circle class="b" cx="365.6" cy="287.1" r="1.4" />
<circle class="b" cx="365.6" cy="258.9" r="1.4" />
<circle class="b" cx="385.5" cy="238.9" r="1.4" />
<circle class="b" cx="413.8" cy="238.9" r="1.4" />
<circle class="b" cx="433.7" cy="258.9" r="1.4" />
<path class="c" d="M399.7 186V317.5" />
<path class="c" d="M336 262.6H494" />
<path class="c" d="M337 273.4H447" />
<path class="" d="M374.9 259.3V248A34.65 34.65 0 0 1 424.4 248V259.3Z" fill="#fff" stroke="#000" stroke-width="1.2" stroke-linejoin="round"/>
<path class="n" d="M377.3 257.6V249.3A32.449999999999996 32.449999999999996 0 0 1 422 249.3V257.6Z" />
<path class="" d="M376.1 258.5V248.6A33.55 33.55 0 0 1 423.2 248.6V258.5" fill="none" stroke="#555" stroke-width=".5"/>
<path class="n" d="M377.3 249.3H422 M377.3 249.3L422 257.6 M377.3 257.6L422 249.3" />
<path class="" d="M374.9 258.9H424.4" stroke="#000" stroke-width="1.9" fill="none"/>
<circle class="b" cx="399.7" cy="259.4" r="1.1" />
<circle class="b" cx="376.3" cy="259.4" r="1.0" />
<path class="" d="M384.8 238.2L386.6 241.6 M414.9 238.2L413.1 241.6" stroke="#000" stroke-width="1.6" stroke-linecap="round" fill="none"/>
<path class="" d="M417 258.9H432.5" stroke="#000" stroke-width="1.6" fill="none"/>
<path class="" d="M416.9 258.9V273.4" stroke="#000" stroke-width="1.3" fill="none"/>
<path class="" d="M411 272.4H417.5 M411 274.2H417.5" stroke="#000" stroke-width=".9" fill="none"/>
<path class="" d="M416 262.3L419.8 265.5M419.8 262.3L416 265.5" stroke="#000" stroke-width="1" fill="none"/>
<circle class="kw" cx="399.7" cy="273.4" r="11.7" />
<path class="c" d="M399.7 259V289" />
<path class="c" d="M386 273H414" />
<path class="b" d="M388.2 273.4l4 -1.1v2.2Z" />
<line class="n" x1="389.7" y1="279.2" x2="409.8" y2="267.6" />
<path class="b" d="M389.7 279.2l3.7 -1.2l-.8 -1.4Z M409.8 267.6l-3.7 1.2l.8 1.4Z" />
<text class="tb" transform="translate(398.4,272.6) rotate(-30)" font-size="6.8" text-anchor="middle" textLength="11" lengthAdjust="spacingAndGlyphs" >Ø250</text>
<circle class="" cx="372.3" cy="273.4" r="5.7" fill="#fff" stroke="#000" stroke-width="1.4"/>
<circle class="" cx="372.3" cy="273.4" r="4.2" fill="#cfcfcf" stroke="#555" stroke-width=".5"/>
<path class="" d="M369.3 270.4L375.3 276.4M369.3 276.4L375.3 270.4 M368.1 273.4H376.5" stroke="#777" stroke-width=".6" fill="none"/>
<circle class="" cx="427" cy="273.4" r="5.7" fill="#fff" stroke="#000" stroke-width="1.4"/>
<circle class="" cx="427" cy="273.4" r="4.2" fill="#cfcfcf" stroke="#555" stroke-width=".5"/>
<path class="" d="M424 270.4L430 276.4M424 276.4L430 270.4 M422.8 273.4H431.2" stroke="#777" stroke-width=".6" fill="none"/>
<path class="" d="M377 286.8H421.7V298.2A52.2 52.2 0 0 1 377 298.2Z" fill="#fff" stroke="#000" stroke-width="1.1" stroke-linejoin="round"/>
<path class="n" d="M378.7 288.4H420V297.2A50.6 50.6 0 0 1 378.7 297.2Z" />
<rect class="mw" x="389.10" y="288.70" width="3.80" height="12.50" rx="0.6" />
<rect class="n" x="390.20" y="289.80" width="1.60" height="10.40" rx="0.3" />
<rect class="mw" x="406.30" y="288.70" width="3.80" height="12.50" rx="0.6" />
<rect class="n" x="407.40" y="289.80" width="1.60" height="10.40" rx="0.3" />
<circle class="b" cx="379.2" cy="287.6" r="0.95" />
<circle class="b" cx="399.7" cy="287.6" r="0.95" />
<circle class="b" cx="419.6" cy="287.6" r="0.95" />
<circle class="b" cx="378.9" cy="295.8" r="0.95" />
<circle class="b" cx="419.9" cy="295.8" r="0.95" />
<circle class="b" cx="388.2" cy="302.3" r="0.95" />
<circle class="b" cx="410.6" cy="302.3" r="0.95" />
<circle class="" cx="399.5" cy="309.5" r="3" fill="#fff" stroke="#000" stroke-width="1"/>
<circle class="" cx="399.5" cy="309.4" r="1.5" fill="#555" stroke="#222" stroke-width=".6"/>
<path class="" d="M377.25 307.6V316.5" stroke="#000" stroke-width="1.2" fill="none"/>
<path class="" d="M374.95 307.6H379.55" stroke="#000" stroke-width="1" fill="none"/>
<rect class="" x="375.55" y="315.60" width="3.40" height="3.00" rx="0" rx=".5" fill="#fff" stroke="#000" stroke-width=".9"/>
<path class="" d="M375.75 312.2L378.75 314 M378.75 312.2L375.75 314" stroke="#000" stroke-width=".8" fill="none"/>
<rect class="" x="380.05" y="315.30" width="12.60" height="3.00" rx="0" rx="1.5" fill="#fff" stroke="#000" stroke-width=".95"/>
<path class="" d="M422.04999999999995 307.6V316.5" stroke="#000" stroke-width="1.2" fill="none"/>
<path class="" d="M419.74999999999994 307.6H424.34999999999997" stroke="#000" stroke-width="1" fill="none"/>
<rect class="" x="420.35" y="315.60" width="3.40" height="3.00" rx="0" rx=".5" fill="#fff" stroke="#000" stroke-width=".9"/>
<path class="" d="M420.54999999999995 312.2L423.54999999999995 314 M423.54999999999995 312.2L420.54999999999995 314" stroke="#000" stroke-width=".8" fill="none"/>
<rect class="" x="406.65" y="315.30" width="12.60" height="3.00" rx="0" rx="1.5" fill="#fff" stroke="#000" stroke-width=".95"/>
<line class="t" x1="335" y1="330.4" x2="439" y2="330.4" />
<path class="t" d="M362.6 330.4V354.8 M372.7 330.4V345.6 M437.2 330.4V354.8" />
<line class="t" x1="352.7" y1="343.6" x2="392.9" y2="343.6" />
<path class="b" d="M362.6 343.6l-4.5 -.8v1.6Z M372.7 343.6l4.5 -.8v1.6Z" />
<text class="tx" transform="translate(387.8,341.4)" font-size="7" text-anchor="middle" textLength="7.2" lengthAdjust="spacingAndGlyphs" >105</text>
<line class="t" x1="362.6" y1="352.9" x2="437.2" y2="352.9" />
<path class="b" d="M362.6 352.9l4.5 -.8v1.6Z M437.2 352.9l-4.5 -.8v1.6Z" />
<text class="tx" transform="translate(399.9,350.8)" font-size="7" text-anchor="middle" textLength="7.6" lengthAdjust="spacingAndGlyphs" >780</text>
<path class="" d="M449.3 271.3H531.6L539.6 274.9H449.3A1.8 1.8 0 0 1 449.3 271.3Z" fill="#d8d8d8" stroke="#000" stroke-width="1.1" stroke-linejoin="round"/>
<path class="n" d="M451.3 271.2V274.8" />
<path class="" d="M482.4 299V308C482.4 314.4 485.4 317.8 491.5 317.8H497" fill="none" stroke="#111" stroke-width="3.3"/>
<path class="" d="M482.4 299V308C482.4 314.4 485.4 317.8 491.5 317.8H497" fill="none" stroke="#fff" stroke-width="1.5"/>
<rect class="b" x="480.40" y="300.60" width="4.20" height="4.00" rx="0.6" />
<circle class="kw" cx="482.2" cy="292.2" r="6.5" style="stroke-width:1.25"/>
<line class="" x1="479.1" y1="295.2" x2="485.3" y2="289.4" stroke="#000" stroke-width="1.3"/>
<path class="" d="M495.8 276V315.3C495.8 320.8 498.6 323.7 504.1 323.7H550.6V319.6H504.1C501.1 319.6 499.4 318.4 499.4 315.3V276A1.8 1.8 0 0 0 495.8 276Z" fill="#fff" stroke="#000" stroke-width="1.05" stroke-linejoin="round"/>
<path class="t" d="M497.6 276V314.5" />
<rect class="" x="495.20" y="282.30" width="4.80" height="7.20" rx="0" fill="#fff" stroke="#000" stroke-width=".9"/>
<rect class="b" x="495.00" y="282.30" width="5.20" height="1.80" rx="0" />
<rect class="b" x="495.00" y="287.60" width="5.20" height="1.90" rx="0" />
<rect class="" x="495.20" y="307.00" width="4.80" height="7.60" rx="0" fill="#fff" stroke="#000" stroke-width=".9"/>
<rect class="b" x="495.00" y="307.00" width="5.20" height="1.80" rx="0" />
<rect class="b" x="495.00" y="312.70" width="5.20" height="1.90" rx="0" />
<path class="" d="M500 284.7H506.4" stroke="#000" stroke-width="1.2" fill="none"/>
<rect class="b" x="501.60" y="283.00" width="2.60" height="3.40" rx="0.5" />
<path class="" d="M506.6 281.3V288.2" stroke="#000" stroke-width="1.5" fill="none" stroke-linecap="round"/>
<path class="" d="M499.4 297.9H509V301.4H499.4" fill="#fff" stroke="#000" stroke-width=".95"/>
<rect class="" x="509.00" y="297.00" width="6.30" height="5.00" rx="0" rx="1" fill="#fff" stroke="#000" stroke-width=".95"/>
<path class="b" d="M510.2 297.6L512.2 301.4L514.2 297.6Z" />
<path class="" d="M512.2 297V292.4" stroke="#000" stroke-width="1.5" fill="none"/>
<path class="" d="M509.2 292.3H515.4" stroke="#000" stroke-width="1.5" fill="none" stroke-linecap="round"/>
<rect class="" x="579.00" y="320.80" width="9.00" height="3.40" rx="0" fill="#fff" stroke="none"/>
<path class="" d="M579 320.8H591.3L587.5 324.2H579" fill="#fff" stroke="#000" stroke-width=".9" stroke-linejoin="round"/>
<rect class="mw" x="555.00" y="328.20" width="19.60" height="2.20" rx="0" />
<rect class="" x="557.00" y="305.30" width="15.30" height="23.10" rx="0" fill="#fff" stroke="#000" stroke-width="1"/>
<path class="n" d="M557 315.6H572.3 M557 322.2H572.3 M560.8 305.3V328.4 M564.6 305.3V328.4 M568.4 305.3V328.4" />
<rect class="" x="550.70" y="315.60" width="3.60" height="12.50" rx="0" rx=".8" fill="#fff" stroke="#000" stroke-width="1"/>
<rect class="" x="554.30" y="317.00" width="2.70" height="9.80" rx="0" fill="#fff" stroke="#000" stroke-width=".8"/>
<rect class="" x="575.50" y="315.60" width="3.60" height="12.50" rx="0" rx=".8" fill="#fff" stroke="#000" stroke-width="1"/>
<rect class="" x="572.30" y="317.00" width="3.20" height="9.80" rx="0" fill="#fff" stroke="#000" stroke-width=".8"/>
<rect class="" x="558.50" y="295.00" width="12.70" height="10.30" rx="0" fill="#fff" stroke="#000" stroke-width=".9"/>
<path class="n" d="M561.4 296V304.4M568.3 296V304.4 M563 299.6H566.6" />
<rect class="" x="555.80" y="292.30" width="18.20" height="2.70" rx="0" fill="#fff" stroke="#000" stroke-width=".9"/>
<path class="" d="M555.5 292.4V276Q555.5 273.3 558.2 273.3H572.4Q575.1 273.3 575.1 276V292.4Z" fill="#fff" stroke="#000" stroke-width="1.05"/>
<path class="" d="M558 274V292 M560.9 273.6V292.3 M563.8 273.6V292.3 M566.7 273.6V292.3 M569.6 273.6V292.3 M572.5 274V292" fill="none" stroke="#555" stroke-width=".45"/>
<rect class="b" x="560.60" y="272.60" width="9.60" height="2.80" rx="0.4" />
<rect class="" x="575.00" y="281.20" width="2.40" height="6.90" rx="0" rx=".6" fill="#fff" stroke="#000" stroke-width=".9"/>
<text class="tx" transform="translate(547.9,158.3)" font-size="9.6" text-anchor="middle" textLength="51.2" lengthAdjust="spacingAndGlyphs" >Выход пара</text>
<line class="t" x1="527.3" y1="166" x2="548.4" y2="166" />
<path class="b" d="M548.4 166l-8.6 -1.3v2.6Z" />
<text class="tx" transform="translate(601.3,157.6)" font-size="6.2" text-anchor="middle" textLength="17.8" lengthAdjust="spacingAndGlyphs" >+1,735</text>
<path class="t" d="M590.6 158.9H615.7 M570.5 166.6H595.6 M586.1 161.5L590.1 166.6L593.2 159.6" />
<text class="tb" transform="translate(600.4,206.9)" font-size="10.4" text-anchor="middle" textLength="4.7" lengthAdjust="spacingAndGlyphs" >В</text>
<text class="tx" transform="translate(606.4,208.3)" font-size="4.6" text-anchor="middle" textLength="4.2" lengthAdjust="spacingAndGlyphs" >(1)</text>
<line class="t" x1="581.8" y1="213" x2="603.2" y2="213" />
<path class="b" d="M581.8 213l8.6 -1.3v2.6Z" />
<text class="tx" transform="translate(311.9,168.6)" font-size="6.6" text-anchor="middle" textLength="34.4" lengthAdjust="spacingAndGlyphs" >Отбор пара на</text>
<text class="tx" transform="translate(312.2,176.9)" font-size="6.6" text-anchor="middle" textLength="44" lengthAdjust="spacingAndGlyphs" >собственные нужды</text>
<path class="t" d="M288.9 170.2 L335.4 170.2 L380.2 207" />
<path class="" d="M379 202.4H385.2" stroke="#000" stroke-width="1.2" fill="none" stroke-linecap="round"/>
<path class="" d="M382.2 201.2V210" stroke="#000" stroke-width="1.3" fill="none"/>
<circle class="b" cx="382.2" cy="210.5" r="1.5" />
<text class="tx" transform="translate(306.2,249.7)" font-size="6.6" text-anchor="middle" textLength="42.2" lengthAdjust="spacingAndGlyphs" >Лючки для обдувки</text>
<path class="t" d="M283.2 251 L331.6 251 L367.6 269.6" />
<path class="t" d="M331.6 251 L421 269.8" />
<text class="tx" transform="translate(304.6,288.2)" font-size="6.6" text-anchor="middle" textLength="56.6" lengthAdjust="spacingAndGlyphs" >Штуцер для слива шлама</text>
<text class="tx" transform="translate(304.9,297.1)" font-size="6.6" text-anchor="middle" textLength="26.9" lengthAdjust="spacingAndGlyphs" >при обдувке</text>
<path class="t" d="M275.1 289.9 L335.4 289.9 L365.5 299.1" />
<text class="tx" transform="translate(340.4,328.9)" font-size="6.6" text-anchor="middle" textLength="10" lengthAdjust="spacingAndGlyphs" >Слив</text>
<path class="t" d="M335 330.4 L346 330.4 L374.3 319.2" />
<text class="tx" transform="translate(464.5,342)" font-size="6.6" text-anchor="middle" textLength="20.4" lengthAdjust="spacingAndGlyphs" >Продувки</text>
<path class="t" d="M474.7 342.9 L452 342.9 L421.8 316.6" />
<text class="tx" transform="translate(565,238.6)" font-size="6.6" text-anchor="middle" textLength="36.4" lengthAdjust="spacingAndGlyphs" >Клапан взрывной</text>
<path class="t" d="M600 239.8 L524.2 239.8 L425 252" />
<text class="tx" transform="translate(585.4,259.9)" font-size="6.6" text-anchor="middle" textLength="43.5" lengthAdjust="spacingAndGlyphs" >Линия подключения</text>
<text class="tx" transform="translate(586.8,268.1)" font-size="6.6" text-anchor="middle" textLength="33.5" lengthAdjust="spacingAndGlyphs" >второго насоса</text>
<path class="t" d="M610 261.6 L556.8 261.6 L532 271.6" />
<line class="t" x1="548" y1="330.4" x2="600" y2="330.4" />
</svg>
</body></html>
